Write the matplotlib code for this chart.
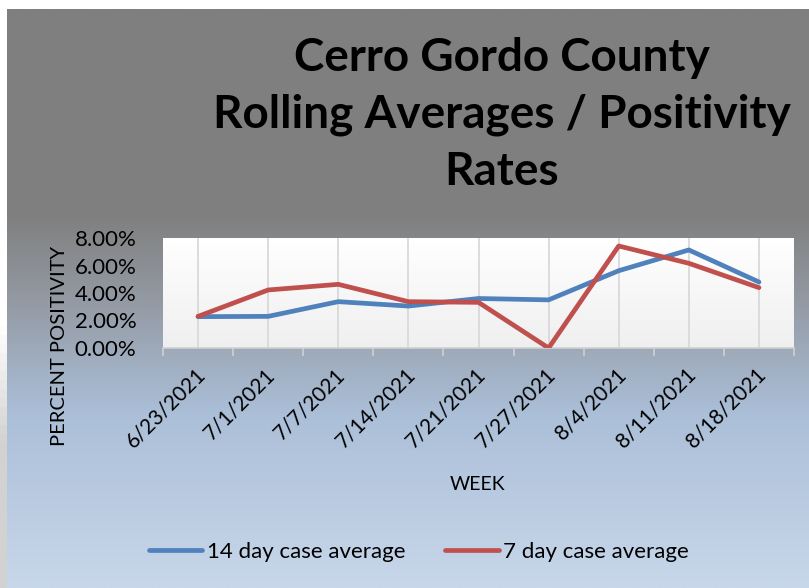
import numpy as np
import matplotlib.pyplot as plt
import matplotlib.transforms as mtransforms
from matplotlib.colors import LinearSegmentedColormap

plt.rcParams["font.family"] = ["Lato", "DejaVu Sans"]

weeks = ["6/23/2021", "7/1/2021", "7/7/2021", "7/14/2021", "7/21/2021",
         "7/27/2021", "8/4/2021", "8/11/2021", "8/18/2021"]
avg_14 = [2.28, 2.30, 3.37, 3.05, 3.60, 3.50, 5.62, 7.13, 4.80]
avg_7 = [2.30, 4.22, 4.63, 3.37, 3.32, 0.0, 7.42, 6.16, 4.39]
series_names = ["14 day case average", "7 day case average"]
series_colors = ["#4f81bd", "#c0504d"]
yticks = [0, 2, 4, 6, 8]

W, H = 809, 588
fig = plt.figure(figsize=(W / 100, H / 100), dpi=100)
fig.patch.set_facecolor("white")

# chart area background: gray on top fading into light blue
bg = fig.add_axes([7 / W, 0, 1 - 7 / W, (H - 9) / H], zorder=-10)
bg_cmap = LinearSegmentedColormap.from_list(
    "bg", [(0.0, "#c8d7ea"), (0.30, "#abbfd8"), (0.50, "#9399a2"),
           (0.64, "#808080"), (1.0, "#7f7f7f")])
bg.imshow(np.linspace(0, 1, 256).reshape(-1, 1), cmap=bg_cmap, aspect="auto",
          origin="lower", extent=[0, 1, 0, 1])
bg.set_axis_off()

# soft shadow on the left edge
sh = fig.add_axes([0, 0, 7 / W, (H - 9) / H], zorder=-11)
sh_cmap = LinearSegmentedColormap.from_list(
    "sh", [(0.0, "#d2d2d2"), (0.25, "#d2d2d2"), (0.45, "#ffffff"), (1.0, "#ffffff")])
sh.imshow(np.linspace(0, 1, 64).reshape(-1, 1), cmap=sh_cmap, aspect="auto",
          origin="lower", extent=[0, 1, 0, 1])
sh.set_axis_off()

ax = fig.add_axes([163 / W, (H - 348) / H, (794 - 163) / W, (348 - 238) / H])
pa_cmap = LinearSegmentedColormap.from_list("pa", ["#efefef", "#ffffff"])
ax.imshow(np.linspace(0, 1, 128).reshape(-1, 1), cmap=pa_cmap, aspect="auto",
          origin="lower", extent=[0, 1, 0, 1], transform=ax.transAxes, zorder=0)

x = np.arange(len(weeks))
for vals, name, col in zip([avg_14, avg_7], series_names, series_colors):
    ax.plot(x, vals, color=col, lw=3.4, label=name, zorder=3,
            solid_capstyle="round", solid_joinstyle="round")

ax.set_xlim(-0.5, len(weeks) - 0.5)
ax.set_ylim(0, 8)
for xi in x:
    ax.axvline(xi, color="#d9d9d9", lw=1.3, zorder=1)

ax.set_yticks(yticks)
ax.set_yticklabels([f"{v:.2f}%" for v in yticks], fontsize=16)
ax.tick_params(axis="y", length=0, pad=19)
ax.set_xticks(x)
ax.set_xticklabels(weeks, fontsize=15, rotation=45, ha="right",
                   va="center", rotation_mode="anchor")
ax.tick_params(axis="x", which="major", length=0, pad=17)
shift = mtransforms.ScaledTranslation(4 / 100, 0, fig.dpi_scale_trans)
for lbl in ax.get_xticklabels():
    lbl.set_transform(lbl.get_transform() + shift)
ax.set_xticks(np.arange(-0.5, len(weeks)), minor=True)
ax.tick_params(axis="x", which="minor", length=6, width=1.2, color="#d0d0d0")

for s in ["top", "right", "left"]:
    ax.spines[s].set_visible(False)
ax.spines["bottom"].set_color("#d0d0d0")
ax.spines["bottom"].set_linewidth(1.2)

fig.text(60 / W, 1 - 346 / H, "PERCENT POSITIVITY", rotation=90,
         ha="center", va="center", fontsize=14.5)
fig.text(478 / W, 1 - 485 / H, "WEEK", ha="center", va="center", fontsize=14)

title_lines = ["Cerro Gordo County", "Rolling Averages / Positivity", "Rates"]
for i, line in enumerate(title_lines):
    fig.text(502 / W, 1 - (58 + 57 * i) / H, line, ha="center", va="center",
             fontsize=33, fontweight="bold")

fig.legend(loc="center", bbox_to_anchor=(419 / W, 1 - 552 / H), ncol=2,
           frameon=False, fontsize=16, handlelength=2.4, columnspacing=1.8,
           handletextpad=0.2)

fig.savefig("out.png", dpi=100)
